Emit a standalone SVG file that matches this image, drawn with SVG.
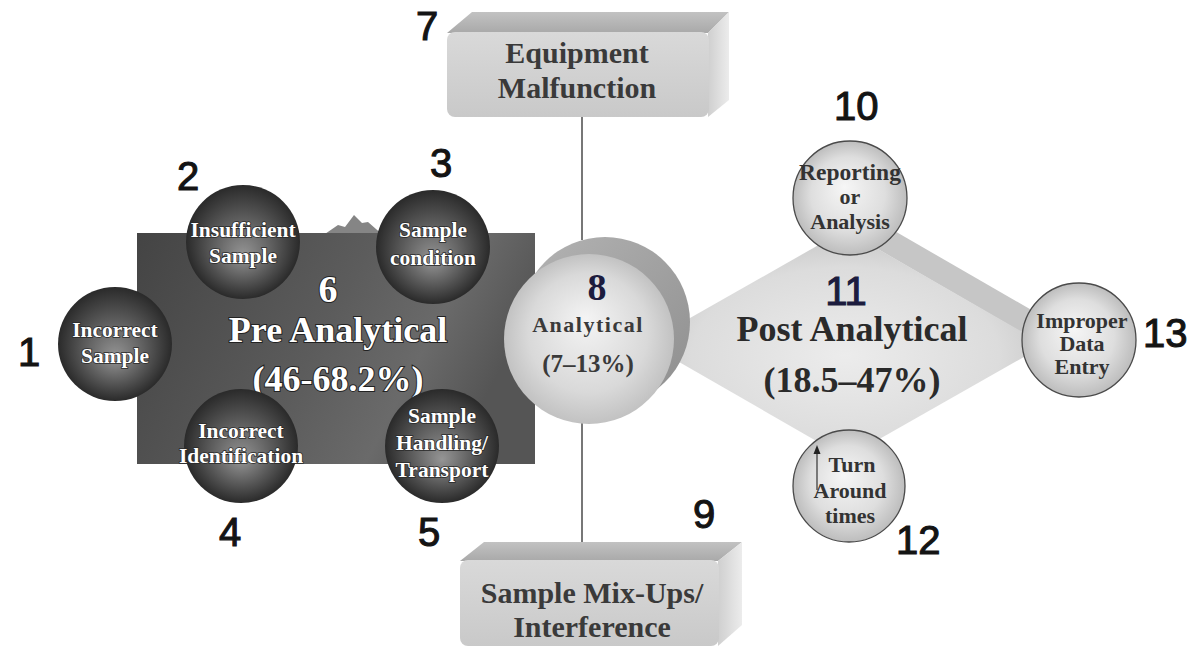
<svg xmlns="http://www.w3.org/2000/svg" width="1188" height="646" viewBox="0 0 1188 646">
  <defs>
    <radialGradient id="darkSphere" cx="50%" cy="50%" r="50%" fx="50%" fy="62%">
      <stop offset="0" stop-color="#959595"/>
      <stop offset="0.55" stop-color="#5a5a5a"/>
      <stop offset="1" stop-color="#2a2a2a"/>
    </radialGradient>
    <radialGradient id="lightSphere" cx="50%" cy="50%" r="50%" fx="45%" fy="40%">
      <stop offset="0" stop-color="#f6f6f6"/>
      <stop offset="0.65" stop-color="#dedede"/>
      <stop offset="1" stop-color="#bdbdbd"/>
    </radialGradient>
    <radialGradient id="frontSphere" cx="50%" cy="50%" r="50%" fx="48%" fy="38%">
      <stop offset="0" stop-color="#f4f4f4"/>
      <stop offset="0.7" stop-color="#d9d9d9"/>
      <stop offset="1" stop-color="#c2c2c2"/>
    </radialGradient>
    <linearGradient id="backSphere" x1="0" y1="0" x2="1" y2="1">
      <stop offset="0" stop-color="#b4b4b4"/>
      <stop offset="1" stop-color="#8e8e8e"/>
    </linearGradient>
    <linearGradient id="rectGrad" x1="0" y1="0" x2="1" y2="0.3">
      <stop offset="0" stop-color="#444"/>
      <stop offset="0.55" stop-color="#5c5c5c"/>
      <stop offset="0.8" stop-color="#6a6a6a"/>
      <stop offset="1" stop-color="#555"/>
    </linearGradient>
    <radialGradient id="diamondGrad" cx="50%" cy="55%" r="55%">
      <stop offset="0" stop-color="#ececec"/>
      <stop offset="0.7" stop-color="#dcdcdc"/>
      <stop offset="1" stop-color="#c6c6c6"/>
    </radialGradient>
    <linearGradient id="boxFront" x1="0" y1="0" x2="0" y2="1">
      <stop offset="0" stop-color="#d9d9d9"/>
      <stop offset="1" stop-color="#c9c9c9"/>
    </linearGradient>
    <linearGradient id="boxTop" x1="0" y1="0" x2="0" y2="1">
      <stop offset="0" stop-color="#c2c2c2"/>
      <stop offset="1" stop-color="#a9a9a9"/>
    </linearGradient>
    <linearGradient id="boxSide" x1="0" y1="0" x2="1" y2="0">
      <stop offset="0" stop-color="#cfcfcf"/>
      <stop offset="1" stop-color="#ececec"/>
    </linearGradient>
    <style>
      .num { font-family: "Liberation Sans", Arial, sans-serif; font-size: 40px; fill: #141414; stroke: #141414; stroke-width: 1.1; }
      .navy { fill: #1c1c3e; stroke: #1c1c3e; }
      .boxTxt { font-family: "Liberation Serif", "Times New Roman", serif; font-weight: bold; font-size: 30px; fill: #3a3a3a; text-anchor: middle; }
      .darkTxt { font-family: "Liberation Serif", "Times New Roman", serif; font-weight: bold; font-size: 21.5px; fill: #ffffff; text-anchor: middle; stroke: #2a2a2a; stroke-width: 1.6; paint-order: stroke; }
      .lightTxt { font-family: "Liberation Serif", "Times New Roman", serif; font-weight: bold; font-size: 22px; fill: #333; text-anchor: middle; }
      .bigWhite { font-family: "Liberation Serif", "Times New Roman", serif; font-weight: bold; font-size: 36px; fill: #ffffff; text-anchor: middle; stroke: #222; stroke-width: 2; paint-order: stroke; }
      .bigDark { font-family: "Liberation Serif", "Times New Roman", serif; font-weight: bold; font-size: 36px; fill: #2a2a2a; text-anchor: middle; }
      .dark { fill: url(#darkSphere); }
      .light { fill: url(#lightSphere); stroke: #4a4a4a; stroke-width: 1.3; }
      .conn { stroke: #555; stroke-width: 1.6; fill: none; }
    </style>
  </defs>
  <rect width="1188" height="646" fill="#ffffff"/>

  <g id="connectors">
    <line class="conn" x1="582" y1="117" x2="582" y2="240"/>
    <line class="conn" x1="582" y1="420" x2="582" y2="543"/>
  </g>

  <g id="pre-analytical">
    <path d="M322 236 L338 225 L345 227 L354 215 L362 223 L368 222 L384 236 Z" fill="#858585"/>
    <rect x="137" y="233" width="398" height="231" fill="url(#rectGrad)"/>
    <text class="bigWhite" x="328" y="302" style="font-size:38px">6</text>
    <text class="bigWhite" x="338" y="342">Pre Analytical</text>
    <text class="bigWhite" x="338" y="391">(46-68.2%)</text>
  </g>

  <g id="node1">
    <circle class="dark" cx="115" cy="344" r="57"/>
    <text class="darkTxt" x="115" y="337">Incorrect</text>
    <text class="darkTxt" x="115" y="363">Sample</text>
    <text class="num" x="18" y="366">1</text>
  </g>
  <g id="node2">
    <circle class="dark" cx="243" cy="242" r="57"/>
    <text class="darkTxt" x="243" y="237">Insufficient</text>
    <text class="darkTxt" x="243" y="263">Sample</text>
    <text class="num" x="177" y="190">2</text>
  </g>
  <g id="node3">
    <circle class="dark" cx="433" cy="247" r="57"/>
    <text class="darkTxt" x="433" y="237">Sample</text>
    <text class="darkTxt" x="433" y="265">condition</text>
    <text class="num" x="430" y="177">3</text>
  </g>
  <g id="node4">
    <circle class="dark" cx="241" cy="446" r="57"/>
    <text class="darkTxt" x="241" y="438">Incorrect</text>
    <text class="darkTxt" x="241" y="463">Identification</text>
    <text class="num" x="219" y="546">4</text>
  </g>
  <g id="node5">
    <circle class="dark" cx="442" cy="446" r="57"/>
    <text class="darkTxt" x="442" y="423">Sample</text>
    <text class="darkTxt" x="442" y="450">Handling/</text>
    <text class="darkTxt" x="442" y="477">Transport</text>
    <text class="num" x="418" y="546">5</text>
  </g>

  <g id="node7">
    <polygon points="447,33 472,12 729,12 708,33" fill="url(#boxTop)"/>
    <polygon points="708,33 729,12 729,100 708,117" fill="url(#boxSide)"/>
    <rect x="447" y="32" width="262" height="85" rx="8" fill="url(#boxFront)"/>
    <text class="boxTxt" x="577" y="63">Equipment</text>
    <text class="boxTxt" x="577" y="98">Malfunction</text>
    <text class="num" x="416" y="40">7</text>
  </g>

  <g id="node9">
    <polygon points="460,561 484,542 742,542 718,561" fill="url(#boxTop)"/>
    <polygon points="718,561 742,542 742,625 718,646" fill="url(#boxSide)"/>
    <rect x="460" y="560" width="259" height="86" rx="8" fill="url(#boxFront)"/>
    <text class="boxTxt" x="592" y="603">Sample Mix-Ups/</text>
    <text class="boxTxt" x="592" y="637">Interference</text>
    <text class="num" x="693" y="528">9</text>
  </g>

  <g id="post-analytical">
    <polygon points="845,230 860,211 1066,330 1045,346" fill="#c6c6c6"/>
    <polygon points="646,343 845,230 1045,345 846,458" fill="url(#diamondGrad)"/>
    <text class="num navy" x="846" y="305" text-anchor="middle">11</text>
    <text class="bigDark" x="852" y="341">Post Analytical</text>
    <text class="bigDark" x="852" y="392">(18.5–47%)</text>
  </g>

  <g id="node8">
    <circle cx="605" cy="322" r="85" fill="url(#backSphere)"/>
    <circle cx="589" cy="339" r="85" fill="url(#frontSphere)"/>
    <text x="597" y="300" style="font-family:'Liberation Serif','Times New Roman',serif;font-weight:bold;font-size:38px;fill:#1c1c3e;text-anchor:middle">8</text>
    <text class="lightTxt" x="588" y="332" style="font-size:22px;letter-spacing:1.5px;fill:#3a3a3a">Analytical</text>
    <text class="lightTxt" x="588" y="372" style="font-size:25px;fill:#3a3a3a">(7–13%)</text>
  </g>

  <g id="node10">
    <circle class="light" cx="850" cy="198" r="57"/>
    <text class="lightTxt" x="850" y="180" style="font-size:23.5px">Reporting</text>
    <text class="lightTxt" x="850" y="204">or</text>
    <text class="lightTxt" x="850" y="229">Analysis</text>
    <text class="num" x="834" y="120">10</text>
  </g>

  <g id="node13">
    <circle class="light" cx="1079" cy="340" r="57"/>
    <text class="lightTxt" x="1082" y="328">Improper</text>
    <text class="lightTxt" x="1082" y="351">Data</text>
    <text class="lightTxt" x="1082" y="374">Entry</text>
    <text class="num" x="1143" y="347">13</text>
  </g>

  <g id="node12">
    <circle class="light" cx="849" cy="486" r="56"/>
    <line x1="817" y1="490" x2="817" y2="452" stroke="#333" stroke-width="1.2"/>
    <polygon points="817,445 813.5,454 820.5,454" fill="#222"/>
    <text class="lightTxt" x="852" y="472">Turn</text>
    <text class="lightTxt" x="850" y="498">Around</text>
    <text class="lightTxt" x="850" y="523">times</text>
    <text class="num" x="896" y="554">12</text>
  </g>
</svg>
